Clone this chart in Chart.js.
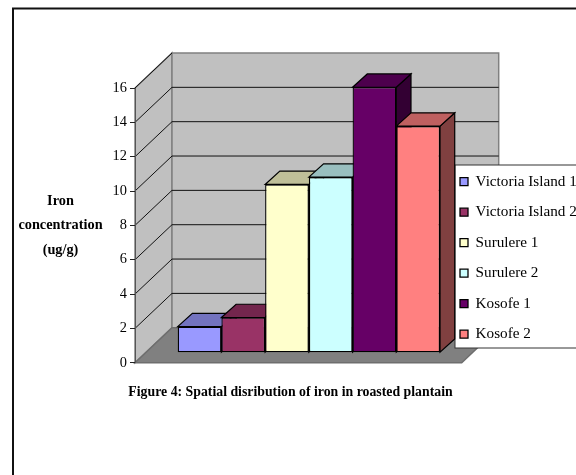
<!DOCTYPE html>
<html>
<head>
<meta charset="utf-8">
<style>html,body{margin:0;padding:0;background:#fff;overflow:hidden}canvas{display:block}</style>
<script src="https://cdn.jsdelivr.net/npm/chart.js@4/dist/chart.umd.js"></script>
</head>
<body>
<canvas id="c" width="576" height="475"></canvas>
<script>
const categories = ['Iron concentration'];
const seriesNames = ['Victoria Island 1','Victoria Island 2','Surulere 1','Surulere 2','Kosofe 1','Kosofe 2'];
const seriesValues = [1.52, 2.05, 9.8, 10.23, 15.46, 13.2];
const seriesColors = ['#9999FF','#993366','#FFFFCC','#CCFFFF','#660066','#FF8080'];
const yTitleLines = ['Iron','concentration','(ug/g)'];
const figureTitle = 'Figure 4: Spatial disribution of iron in roasted plantain';
const yMin = 0, yMax = 16, yStep = 2;
const serif = '"Liberation Serif"';

const shade = (hex, k) => {
  const n = parseInt(hex.slice(1), 16);
  return 'rgb(' + [n >> 16 & 255, n >> 8 & 255, n & 255].map(v => Math.round(v * k)).join(',') + ')';
};
const poly = (ctx, pts, fill, stroke, lw) => {
  ctx.beginPath();
  pts.forEach((p, i) => i ? ctx.lineTo(p[0], p[1]) : ctx.moveTo(p[0], p[1]));
  ctx.closePath();
  if (fill) { ctx.fillStyle = fill; ctx.fill(); }
  if (stroke) { ctx.strokeStyle = stroke; ctx.lineWidth = lw; ctx.stroke(); }
};

const WALL_DX = 37, WALL_DY = -35, BAR_SHIFT_X = 10.5, BAR_SHIFT_Y = -10, BAR_DX = 14.7, BAR_DY = -13.3;

const scene3d = {
  id: 'scene3d',
  afterLayout(chart) {
    const l = chart.legend;
    const pad = l.options.labels.padding;
    l.left = 460 - pad; l.top = 174.1 - pad; l.right = 640; l.bottom = 400;
    const t = chart.titleBlock;
    t.left = 0; t.right = 581;
  },
  beforeDraw(chart) {
    const ctx = chart.ctx, y = chart.scales.y, a = chart.chartArea;
    const L = a.left, R = a.right, y0 = y.getPixelForValue(yMin), yT = y.getPixelForValue(yMax);
    ctx.save();
    ctx.fillStyle = '#fff'; ctx.fillRect(0, 0, 576, 475);
    // page frame
    ctx.strokeStyle = '#111'; ctx.lineWidth = 2;
    ctx.beginPath(); ctx.moveTo(13, 476); ctx.lineTo(13, 8.5); ctx.lineTo(577, 8.5); ctx.stroke();
    // walls and floor
    poly(ctx, [[L, y0], [L + WALL_DX, y0 + WALL_DY], [L + WALL_DX, yT + WALL_DY], [L, yT]], '#c0c0c0', '#808080', 1.5);
    poly(ctx, [[L + WALL_DX, y0 + WALL_DY], [R + WALL_DX, y0 + WALL_DY], [R + WALL_DX, yT + WALL_DY], [L + WALL_DX, yT + WALL_DY]], '#c0c0c0', '#808080', 1.5);
    poly(ctx, [[L, y0], [L + WALL_DX, y0 + WALL_DY], [R + WALL_DX, y0 + WALL_DY], [R, y0]], '#808080', '#6e6e6e', 1.5);
    // gridlines
    ctx.strokeStyle = '#111'; ctx.lineWidth = 1;
    y.ticks.forEach(t => {
      if (t.value === yMin) return;
      const py = y.getPixelForValue(t.value);
      ctx.beginPath();
      ctx.moveTo(L, py);
      ctx.lineTo(L + WALL_DX, py + WALL_DY);
      if (t.value !== yMax) ctx.lineTo(R + WALL_DX, py + WALL_DY);
      ctx.stroke();
    });
    // legend panel
    ctx.fillStyle = '#fff'; ctx.strokeStyle = '#333'; ctx.lineWidth = 1;
    ctx.fillRect(455, 165, 130, 183);
    ctx.strokeRect(455, 165, 130, 183);
    // y-axis title
    ctx.fillStyle = '#000'; ctx.font = 'bold 14.3px ' + serif;
    ctx.textAlign = 'center'; ctx.textBaseline = 'middle';
    yTitleLines.forEach((s, i) => ctx.fillText(s, 60.5, [201.7, 225, 250][i]));
    ctx.restore();
  },
  beforeDatasetsDraw(chart) {
    const ctx = chart.ctx;
    ctx.save();
    ctx.translate(BAR_SHIFT_X, BAR_SHIFT_Y);
    seriesValues.forEach((v, i) => {
      const el = chart.getDatasetMeta(i).data[0];
      const x0 = el.x - el.width / 2, x1 = el.x + el.width / 2, yt = el.y, yb = el.base;
      const c = seriesColors[i];
      poly(ctx, [[x1, yt], [x1 + BAR_DX, yt + BAR_DY], [x1 + BAR_DX, yb + BAR_DY], [x1, yb]], shade(c, 0.5), '#000', 1.2);
      poly(ctx, [[x0, yt], [x0 + BAR_DX, yt + BAR_DY], [x1 + BAR_DX, yt + BAR_DY], [x1, yt]], shade(c, 0.75), '#000', 1.2);
    });
  },
  afterDatasetsDraw(chart) { chart.ctx.restore(); }
};

new Chart(document.getElementById('c'), {
  type: 'bar',
  data: {
    labels: categories,
    datasets: seriesNames.map((name, i) => ({
      label: name,
      data: [seriesValues[i]],
      backgroundColor: seriesColors[i],
      borderColor: '#000',
      borderWidth: 1.3,
      borderSkipped: false,
      clip: false,
      categoryPercentage: 0.803,
      barPercentage: 1
    }))
  },
  options: {
    responsive: false,
    animation: false,
    layout: { padding: { left: 0, right: 114.3, top: 88, bottom: 0 } },
    plugins: {
      tooltip: { enabled: false },
      title: {
        display: true,
        position: 'bottom',
        text: figureTitle,
        color: '#000',
        font: { family: serif, size: 13.8, weight: 'bold', lineHeight: 1.2 },
        padding: { top: 21, bottom: 74.7 }
      },
      legend: {
        position: 'chartArea',
        align: 'start',
        labels: {
          color: '#000',
          font: { family: serif, size: 15.2 },
          boxWidth: 8,
          boxHeight: 8,
          padding: 15.3
        }
      }
    },
    scales: {
      x: { display: false },
      y: {
        min: yMin, max: yMax,
        afterFit(s) { s.width = 135; },
        ticks: { stepSize: yStep, padding: 3, color: '#000', font: { family: serif, size: 14.4 } },
        grid: { drawOnChartArea: false, drawTicks: true, tickLength: 5, color: '#222' },
        border: { display: true, color: '#555', width: 1 }
      }
    }
  },
  plugins: [scene3d]
});
</script>
</body>
</html>
